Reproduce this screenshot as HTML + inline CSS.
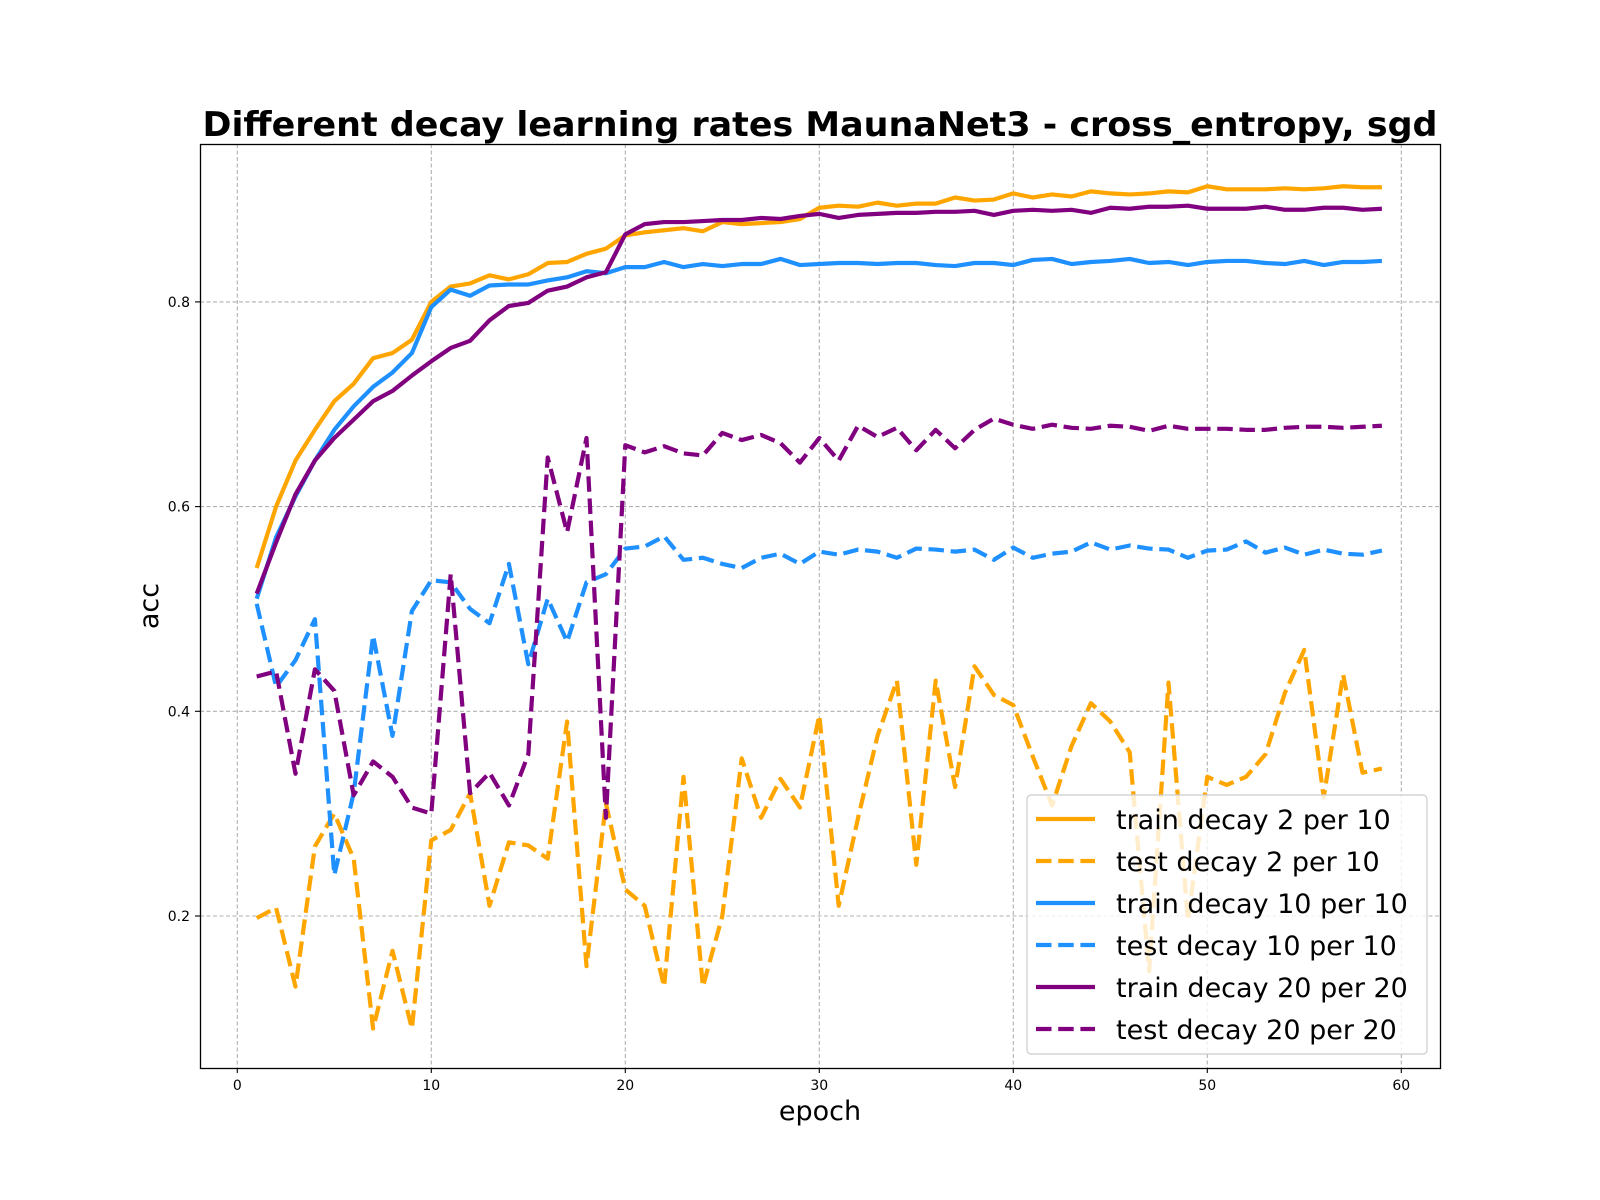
<!DOCTYPE html>
<html><head><meta charset="utf-8"><style>body{margin:0;background:#fff}svg{display:block;font-family:"DejaVu Sans","Liberation Sans",sans-serif}</style></head>
<body>
<svg id="chart" width="1600" height="1200" xmlns="http://www.w3.org/2000/svg">
<rect width="1600" height="1200" fill="#fff"/>
<text x="820" y="136" text-anchor="middle" font-size="34" font-weight="bold" textLength="1235" lengthAdjust="spacingAndGlyphs">Different decay learning rates MaunaNet3 - cross_entropy, sgd</text>
<g id="grid"></g>
<g id="series"></g>
<rect x="200.5" y="144.5" width="1240" height="924" fill="none" stroke="#000" stroke-width="1.3"/>
<g id="ticks"></g>
<text x="820" y="1120" text-anchor="middle" font-size="27">epoch</text>
<text transform="translate(158,606) rotate(-90)" text-anchor="middle" font-size="27">acc</text>
<g id="legend"></g>
</svg>
<script>
const epochs = Array.from({length:59},(_,i)=>i+1);
const trainDecay2 = [0.54,0.60,0.645,0.675,0.703,0.72,0.745,0.75,0.763,0.80,0.815,0.818,0.826,0.822,0.827,0.838,0.839,0.847,0.852,0.865,0.868,0.870,0.872,0.869,0.878,0.876,0.877,0.878,0.881,0.892,0.894,0.893,0.897,0.894,0.896,0.896,0.902,0.899,0.900,0.906,0.902,0.905,0.903,0.908,0.906,0.905,0.906,0.908,0.907,0.913,0.910,0.910,0.910,0.911,0.910,0.911,0.913,0.912,0.912];
const testDecay2 = [0.198,0.208,0.131,0.268,0.30,0.256,0.09,0.166,0.09,0.274,0.284,0.32,0.21,0.272,0.269,0.256,0.39,0.151,0.31,0.226,0.21,0.131,0.336,0.131,0.20,0.354,0.296,0.334,0.306,0.396,0.21,0.296,0.376,0.43,0.25,0.43,0.326,0.444,0.416,0.406,0.356,0.308,0.366,0.408,0.39,0.36,0.146,0.428,0.196,0.336,0.328,0.336,0.358,0.418,0.46,0.316,0.436,0.34,0.344];
const trainDecay10 = [0.51,0.57,0.61,0.645,0.675,0.698,0.717,0.731,0.75,0.795,0.812,0.806,0.816,0.817,0.817,0.821,0.824,0.830,0.828,0.834,0.834,0.839,0.834,0.837,0.835,0.837,0.837,0.842,0.836,0.837,0.838,0.838,0.837,0.838,0.838,0.836,0.835,0.838,0.838,0.836,0.841,0.842,0.837,0.839,0.840,0.842,0.838,0.839,0.836,0.839,0.840,0.840,0.838,0.837,0.840,0.836,0.839,0.839,0.840];
const testDecay10 = [0.505,0.424,0.45,0.49,0.24,0.32,0.474,0.376,0.498,0.528,0.526,0.50,0.486,0.544,0.446,0.51,0.468,0.526,0.534,0.559,0.561,0.571,0.548,0.55,0.544,0.54,0.55,0.554,0.544,0.556,0.553,0.558,0.556,0.55,0.559,0.558,0.556,0.558,0.548,0.56,0.55,0.554,0.556,0.565,0.558,0.562,0.559,0.558,0.55,0.557,0.558,0.566,0.555,0.56,0.553,0.558,0.554,0.553,0.557];
const trainDecay20 = [0.515,0.565,0.612,0.645,0.667,0.685,0.703,0.713,0.728,0.742,0.755,0.762,0.782,0.796,0.799,0.811,0.815,0.824,0.829,0.866,0.876,0.878,0.878,0.879,0.880,0.880,0.882,0.881,0.884,0.886,0.882,0.885,0.886,0.887,0.887,0.888,0.888,0.889,0.885,0.889,0.890,0.889,0.890,0.887,0.892,0.891,0.893,0.893,0.894,0.891,0.891,0.891,0.893,0.890,0.890,0.892,0.892,0.890,0.891];
const testDecay20 = [0.434,0.439,0.339,0.441,0.42,0.318,0.351,0.336,0.306,0.30,0.534,0.32,0.34,0.308,0.358,0.648,0.575,0.667,0.296,0.66,0.653,0.659,0.652,0.65,0.672,0.665,0.67,0.662,0.643,0.667,0.645,0.679,0.668,0.677,0.655,0.675,0.657,0.675,0.686,0.68,0.676,0.68,0.677,0.676,0.679,0.678,0.674,0.679,0.676,0.676,0.676,0.675,0.675,0.677,0.678,0.678,0.677,0.678,0.679];
const xTicks = [0,10,20,30,40,50,60];
const yTicks = [0.2,0.4,0.6,0.8];
const seriesNames = ["train decay 2 per 10","test decay 2 per 10","train decay 10 per 10","test decay 10 per 10","train decay 20 per 20","test decay 20 per 20"];

const NS="http://www.w3.org/2000/svg";
const xs = e => 237.3 + e*19.4;
const ys = v => 916 + (0.2 - v)*1023.5;
function mk(tag, attrs, parent){const el=document.createElementNS(NS,tag);for(const k in attrs)el.setAttribute(k,attrs[k]);parent.appendChild(el);return el;}
const grid=document.getElementById('grid'), ticks=document.getElementById('ticks'), ser=document.getElementById('series'), leg=document.getElementById('legend');
xTicks.forEach(t=>{
  const l=mk('line',{x1:xs(t),x2:xs(t),y1:144,y2:1068,stroke:'#b0b0b0','stroke-width':1.1,'stroke-dasharray':'4,2.5'},grid);
  
  
  mk('line',{x1:xs(t),x2:xs(t),y1:1068,y2:1073,stroke:'#000','stroke-width':1.1},ticks);
  const tx=mk('text',{x:xs(t),y:1090,'text-anchor':'middle','font-size':14},ticks);
  tx.textContent=t;
  
  
});
yTicks.forEach(t=>{
  const l=mk('line',{x1:200,x2:1440,y1:ys(t),y2:ys(t),stroke:'#b0b0b0','stroke-width':1.1,'stroke-dasharray':'4,2.5'},grid);
  
  
  mk('line',{x1:195,x2:200,y1:ys(t),y2:ys(t),stroke:'#000','stroke-width':1.1},ticks);
  const tx=mk('text',{x:190,y:ys(t)+5,'text-anchor':'end','font-size':14},ticks);
  tx.textContent=t.toFixed(1);
  
  
});
const all=[[trainDecay2,'orange',false],[testDecay2,'orange',true],[trainDecay10,'dodgerblue',false],[testDecay10,'dodgerblue',true],[trainDecay20,'purple',false],[testDecay20,'purple',true]];
all.forEach(([d,c,dash],i)=>{
  const p=mk('polyline',{points:d.map((v,j)=>xs(epochs[j])+','+ys(v)).join(' '),fill:'none',stroke:c,'stroke-width':4.2,'stroke-linejoin':'round','stroke-dasharray':dash?'15.5,6.7':'none'},ser);
  
  
});
mk('rect',{x:1027,y:795,width:400,height:259,rx:4,fill:'#fff','fill-opacity':0.8,stroke:'#ccc','stroke-width':1.2},leg);
all.forEach(([d,c,dash],i)=>{
  const y=819+i*42;
  const l=mk('line',{x1:1036,x2:1095,y1:y,y2:y,stroke:c,'stroke-width':4.2,'stroke-dasharray':dash?'15.5,6.7':'none'},leg);
  
  
  const t=mk('text',{x:1116,y:y+10,'font-size':27},leg);
  t.textContent=seriesNames[i];
  
  
});
</script>
</body></html>
